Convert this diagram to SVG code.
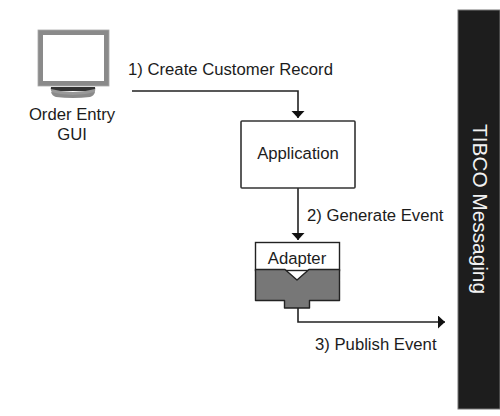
<svg xmlns="http://www.w3.org/2000/svg" width="500" height="416" viewBox="0 0 500 416">
<style>
text{font-family:"Liberation Sans",Arial,sans-serif;font-size:16.7px;fill:#1c1c1c}
.m{text-anchor:middle}
.c{fill:none;stroke:#222;stroke-width:1.6}
.b{stroke:#222;stroke-width:1.4;stroke-linejoin:round}
</style>
<defs>
<marker id="a" markerUnits="userSpaceOnUse" markerWidth="8" markerHeight="14" refX="7" refY="6.500" orient="auto"><path d="M0 0L7 6.500L0 13Z" fill="#111"/></marker>
</defs>
<rect width="500" height="416" fill="#fff"/>
<g id="gui">
<rect x="40.500" y="32.500" width="66" height="51" fill="#fff" stroke="#8a8a8a" stroke-width="5"/>
<rect x="38" y="30" width="71" height="56" fill="none" stroke="#a8a8a8" stroke-width=".8"/>
<path d="M51 87H95Q96 91 93 91H53Q50 91 51 87Z" fill="#333"/>
<path d="M51 89Q51 93 54 94Q73 97 92 94Q96 93 95 89Q73 95 51 89Z" fill="#999"/>
<path d="M51 92Q52 96 56 97Q73 99 90 97Q94 96 95 92Q73 98 51 92Z" fill="#8a8a8a"/>
<text class="m" x="72" y="120">Order Entry</text>
<text class="m" x="72" y="140">GUI</text>
</g>
<g id="connectors">
<path class="c" d="M132 91H298V118" marker-end="url(#a)"/>
<path class="c" d="M298 188V240" marker-end="url(#a)"/>
<path class="c" d="M298 308V322H445" marker-end="url(#a)"/>
</g>
<g id="application">
<rect x="241" y="121" width="114" height="67" rx="1" fill="#fff" stroke="#333" stroke-width="1.6"/>
<text class="m" x="298" y="159">Application</text>
</g>
<g id="adapter">
<rect x="255.500" y="242.500" width="84" height="28" fill="#fff" stroke="#222" stroke-width="1.4"/>
<text class="m" x="297" y="264">Adapter</text>
<path class="b" d="M255.500 269.500H285L297 280L309 269.500H339.500V300.500H309.500V308H284.500V300.500H255.500Z" fill="#777"/>
</g>
<g id="messaging">
<rect x="458" y="10" width="42" height="399" fill="#1d1d1d" stroke="#777" stroke-width="1"/>
<text class="m" transform="translate(472.500 209) rotate(90)" style="fill:#f2f2f2;font-size:20.8px">TIBCO Messaging</text>
</g>
<text x="128" y="75">1) Create Customer Record</text>
<text x="307" y="221">2) Generate Event</text>
<text x="315" y="350">3) Publish Event</text>
</svg>
